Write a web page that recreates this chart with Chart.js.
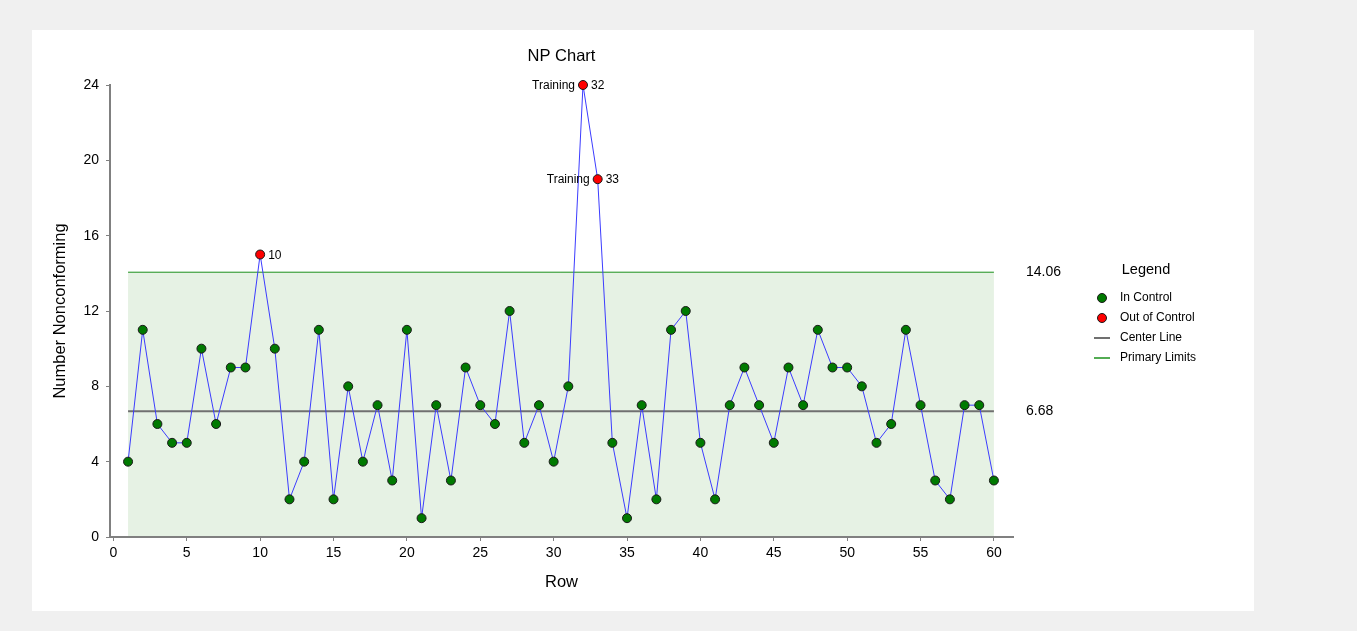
<!DOCTYPE html>
<html>
<head>
<meta charset="utf-8">
<script src="https://cdn.jsdelivr.net/npm/chart.js@4.4.1/dist/chart.umd.min.js"></script>
<style>
  html, body { margin: 0; padding: 0; background: #f0f0f0; }
  #wrap { position: relative; width: 1357px; height: 631px; }
</style>
</head>
<body>
<div id="wrap"><canvas id="npChart" width="1357" height="631"></canvas></div>
<script>
// data
var rows = [1, 2, 3, 4, 5, 6, 7, 8, 9, 10,
            11, 12, 13, 14, 15, 16, 17, 18, 19, 20,
            21, 22, 23, 24, 25, 26, 27, 28, 29, 30,
            31, 32, 33, 34, 35, 36, 37, 38, 39, 40,
            41, 42, 43, 44, 45, 46, 47, 48, 49, 50,
            51, 52, 53, 54, 55, 56, 57, 58, 59, 60];
var counts = [4, 11, 6, 5, 5, 10, 6, 9, 9, 15,
              10, 2, 4, 11, 2, 8, 4, 7, 3, 11,
              1, 7, 3, 9, 7, 6, 12, 5, 7, 4,
              8, 24, 19, 5, 1, 7, 2, 11, 12, 5,
              2, 7, 9, 7, 5, 9, 7, 11, 9, 9,
              8, 5, 6, 11, 7, 3, 2, 7, 7, 3];
var trainingRows = [32, 33];
var centerLine = 6.68;
var upperLimit = 14.06;
var xTicks = [0, 5, 10, 15, 20, 25, 30, 35, 40, 45, 50, 55, 60];
var yTicks = [0, 4, 8, 12, 16, 20, 24];
var legendItems = ["In Control", "Out of Control", "Center Line", "Primary Limits"];

var FONT = '"Liberation Sans", Arial, sans-serif';
var IN_COLOR = '#007a00';
var OUT_COLOR = '#ff0000';
var CL_COLOR = '#707070';
var LIM_COLOR = '#1a901a';

Chart.defaults.font.family = FONT;
Chart.defaults.color = '#000';

var pointColors = counts.map(function (v) { return v > upperLimit ? OUT_COLOR : IN_COLOR; });
var firstRow = rows[0];
var lastRow = rows[rows.length - 1];

var extras = {
  id: 'extras',
  beforeDraw: function (chart) {
    var c = chart.ctx;
    c.save();
    c.fillStyle = '#f0f0f0';
    c.fillRect(0, 0, chart.width, chart.height);
    c.fillStyle = '#ffffff';
    c.fillRect(32, 30, 1222, 581);
    c.restore();
  },
  afterDraw: function (chart) {
    var c = chart.ctx;
    var a = chart.chartArea;
    var xs = chart.scales.x, ys = chart.scales.y;
    c.save();
    c.fillStyle = '#000';

    // titles
    c.textAlign = 'center';
    c.textBaseline = 'middle';
    c.font = '16.5px ' + FONT;
    c.fillText('NP Chart', (a.left + a.right) / 2, 56);
    c.fillText('Row', (a.left + a.right) / 2, 582);
    c.save();
    c.translate(60, (a.top + a.bottom) / 2);
    c.rotate(-Math.PI / 2);
    c.fillText('Number Nonconforming', 0, 0);
    c.restore();

    // limit values on the right
    c.textAlign = 'left';
    c.font = '14px ' + FONT;
    c.fillText(upperLimit.toFixed(2), a.right + 13, ys.getPixelForValue(upperLimit));
    c.fillText(centerLine.toFixed(2), a.right + 13, ys.getPixelForValue(centerLine));

    // point labels for out-of-control rows
    c.font = '12px ' + FONT;
    counts.forEach(function (v, i) {
      if (v <= upperLimit) return;
      var px = xs.getPixelForValue(rows[i]);
      var py = ys.getPixelForValue(v);
      c.textAlign = 'left';
      c.fillText(String(rows[i]), px + 8, py + 1);
      if (trainingRows.indexOf(rows[i]) >= 0) {
        c.textAlign = 'right';
        c.fillText('Training', px - 8, py + 1);
      }
    });

    // legend
    c.textAlign = 'center';
    c.font = '14.5px ' + FONT;
    c.fillText('Legend', 1146, 270);
    c.textAlign = 'left';
    c.font = '12px ' + FONT;
    legendItems.forEach(function (label, i) {
      var y = 298 + i * 20;
      var mx = 1102;
      if (i < 2) {
        c.beginPath();
        c.arc(mx, y, 4.5, 0, Math.PI * 2);
        c.fillStyle = i === 0 ? IN_COLOR : OUT_COLOR;
        c.fill();
        c.lineWidth = 1;
        c.strokeStyle = '#1a1a1a';
        c.stroke();
      } else {
        c.beginPath();
        c.moveTo(mx - 8, y);
        c.lineTo(mx + 8, y);
        c.lineWidth = i === 2 ? 2 : 1.5;
        c.strokeStyle = i === 2 ? CL_COLOR : LIM_COLOR;
        c.stroke();
      }
      c.fillStyle = '#000';
      c.fillText(label, 1120, y);
    });
    c.restore();
  }
};

var ctx = document.getElementById('npChart').getContext('2d');

var npChart = new Chart(ctx, {
  type: 'line',
  data: {
    datasets: [{
        label: 'Nonconforming',
        order: 1,
        clip: false,
        data: rows.map(function (r, i) { return { x: r, y: counts[i] }; }),
        borderColor: '#3c3cff',
        borderWidth: 1,
        pointRadius: 4.5,
        pointBorderWidth: 1,
        pointBorderColor: '#1a1a1a',
        pointBackgroundColor: pointColors,
        fill: false,
        tension: 0
      }, {
        label: 'Center Line',
        order: 2,
        data: [{ x: firstRow, y: centerLine }, { x: lastRow, y: centerLine }],
        borderColor: CL_COLOR,
        borderWidth: 2,
        pointRadius: 0,
        fill: false
      }, {
        label: 'Primary Limits',
        order: 3,
        data: [{ x: firstRow, y: upperLimit }, { x: lastRow, y: upperLimit }],
        borderColor: LIM_COLOR,
        borderWidth: 1,
        backgroundColor: '#e6f2e4',
        pointRadius: 0,
        fill: 'origin'
      }
    ]
  },
  options: {
    responsive: false,
    animation: false,
    layout: {
      padding: { left: 0, top: 85, right: 344, bottom: 0 }
    },
    plugins: {
      legend: { display: false },
      title: { display: false },
      tooltip: { enabled: false }
    },
    scales: {
      x: {
        type: 'linear',
        min: -0.23,
        max: 61.3,
        afterBuildTicks: function (s) { s.ticks = xTicks.map(function (v) { return { value: v }; }); },
        afterFit: function (s) { s.height = 94; },
        grid: { drawOnChartArea: false, color: '#808080', tickLength: 4 },
        border: { color: '#808080', width: 2, z: 1 },
        ticks: { font: { size: 14 }, color: '#000', padding: 4, maxRotation: 0 }
      },
      y: {
        min: 0,
        max: 24,
        afterBuildTicks: function (s) { s.ticks = yTicks.map(function (v) { return { value: v }; }); },
        afterFit: function (s) { s.width = 110; },
        grid: { drawOnChartArea: false, color: '#808080', tickLength: 4 },
        border: { color: '#808080', width: 2 },
        ticks: { font: { size: 14 }, color: '#000', padding: 7 }
      }
    }
  },
  plugins: [extras]
});
</script>
</body>
</html>
